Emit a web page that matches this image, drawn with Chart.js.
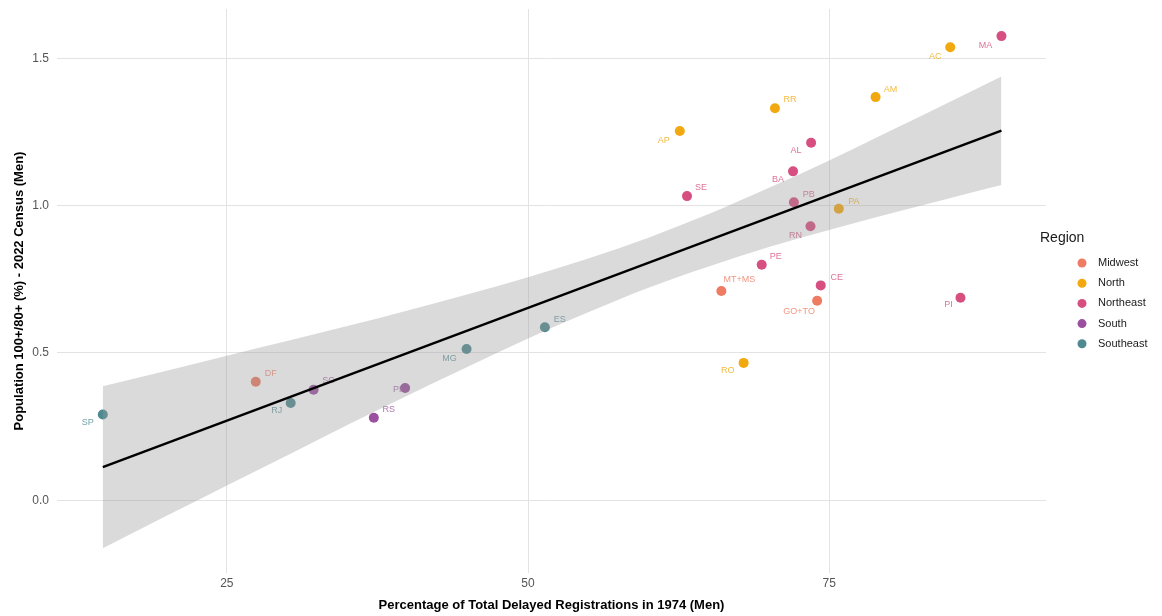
<!DOCTYPE html>
<html>
<head>
<meta charset="utf-8">
<script src="https://cdn.jsdelivr.net/npm/chart.js@4.4.1/dist/chart.umd.min.js"></script>
<style>
  html, body { margin: 0; padding: 0; background: #ffffff; }
  #wrap { width: 1162px; height: 616px; }
</style>
</head>
<body>
<div id="wrap"><canvas id="c" width="1162" height="616"></canvas></div>
<script>
// ---------------- DATA ----------------
const states  = ['AC','AL','AM','AP','BA','CE','DF','ES','GO+TO','MA','MG','MT+MS','PA','PB','PE','PI','PR','RJ','RN','RO','RR','RS','SC','SE','SP'];
const stateRegion = ['North','Northeast','North','North','Northeast','Northeast','Midwest','Southeast','Midwest','Northeast','Southeast','Midwest','North','Northeast','Northeast','Northeast','South','Southeast','Northeast','North','North','South','South','Northeast','Southeast'];
const delayedReg1974 = [85.05, 73.5, 78.85, 62.6, 72.0, 74.3, 27.4, 51.4, 74.0, 89.3, 44.9, 66.05, 75.8, 72.07, 69.4, 85.9, 39.8, 30.3, 73.45, 67.9, 70.5, 37.2, 32.2, 63.2, 14.7];
const pop100over80 = [1.537, 1.213, 1.368, 1.253, 1.116, 0.729, 0.402, 0.587, 0.677, 1.575, 0.513, 0.710, 0.989, 1.011, 0.799, 0.687, 0.381, 0.330, 0.930, 0.466, 1.330, 0.280, 0.375, 1.032, 0.291];

const regions = ['Midwest','North','Northeast','South','Southeast'];

// regression line and confidence band
const fitX = [14.7, 89.3];
const fitY = [0.112, 1.254];
const bandX     = [14.7, 20, 25, 30, 35, 40, 45, 50, 55, 60, 65, 70, 75, 80, 85, 89.3];
const bandUpper = [0.387, 0.439, 0.490, 0.540, 0.591, 0.644, 0.699, 0.757, 0.820, 0.891, 0.971, 1.060, 1.153, 1.252, 1.351, 1.438];
const bandLower = [-0.163, -0.053, 0.050, 0.152, 0.255, 0.355, 0.453, 0.549, 0.638, 0.721, 0.793, 0.859, 0.917, 0.972, 1.025, 1.070];

const xTicks = [25, 50, 75];
const yTicks = [0, 0.5, 1.0, 1.5];

// ---------------- STYLE ----------------
const regionColors = {
  'Midwest':   '#EE7B62',
  'North':     '#F2A90F',
  'Northeast': '#D64F80',
  'South':     '#9A509E',
  'Southeast': '#4F8A90'
};
// label placement (pixel offsets of label centre from its point)
const labelOffsets = {
  'MA':[-16,9], 'AC':[-15,9], 'AM':[15,-8], 'RR':[15,-9], 'AP':[-16,10], 'AL':[-15,8],
  'BA':[-15,8], 'SE':[14,-9], 'PB':[15,-8], 'PA':[15,-7], 'RN':[-15,9], 'PE':[14,-8],
  'MT+MS':[18,-11], 'CE':[16,-8], 'GO+TO':[-18,11], 'PI':[-12,7], 'RO':[-16,8],
  'SP':[-15,8], 'DF':[15,-8], 'RJ':[-14,8], 'SC':[15,-9], 'PR':[-6,2], 'RS':[15,-8],
  'ES':[15,-8], 'MG':[-17,9]
};

const FONT = "'Liberation Sans', Arial, Helvetica, sans-serif";

// ---------------- BUILD ----------------
const scatterSets = regions.map(r => {
  const pts = [];
  states.forEach((s, i) => {
    if (stateRegion[i] === r) pts.push({ x: delayedReg1974[i], y: pop100over80[i], label: s });
  });
  return {
    type: 'scatter',
    label: r,
    data: pts,
    backgroundColor: regionColors[r],
    borderColor: regionColors[r],
    borderWidth: 0,
    pointRadius: 5,
    pointHoverRadius: 5,
    order: 3
  };
});

const bandUpperSet = {
  type: 'line', label: 'upper',
  data: bandX.map((x, i) => ({ x, y: bandUpper[i] })),
  borderWidth: 0, borderColor: 'rgba(0,0,0,0)', pointRadius: 0,
  fill: false, tension: 0.4, cubicInterpolationMode: 'monotone', order: 2
};
const bandLowerSet = {
  type: 'line', label: 'lower',
  data: bandX.map((x, i) => ({ x, y: bandLower[i] })),
  borderWidth: 0, borderColor: 'rgba(0,0,0,0)', pointRadius: 0,
  fill: '-1', backgroundColor: 'rgba(153,153,153,0.36)',
  tension: 0.4, cubicInterpolationMode: 'monotone', order: 2
};
const fitSet = {
  type: 'line', label: 'fit',
  data: fitX.map((x, i) => ({ x, y: fitY[i] })),
  borderColor: '#000000', borderWidth: 2.4, pointRadius: 0, fill: false, order: 1
};

const labelPlugin = {
  id: 'pointLabels',
  afterDatasetDraw(chart, args) {
    if (args.index !== 0) return;
    const ctx = chart.ctx;
    ctx.save();
    ctx.font = '9px ' + FONT;
    ctx.textAlign = 'center';
    ctx.textBaseline = 'middle';
    for (let d = 0; d < regions.length; d++) {
      const meta = chart.getDatasetMeta(d);
      const ds = chart.data.datasets[d];
      meta.data.forEach((el, j) => {
        const name = ds.data[j].label;
        const off = labelOffsets[name] || [12, -8];
        ctx.fillStyle = regionColors[regions[d]];
        ctx.globalAlpha = 0.8;
        ctx.fillText(name, el.x + off[0], el.y + off[1]);
      });
    }
    ctx.restore();
  }
};

const legendPlugin = {
  id: 'regionLegend',
  afterDraw(chart) {
    const ctx = chart.ctx;
    ctx.save();
    ctx.fillStyle = '#1a1a1a';
    ctx.font = '14px ' + FONT;
    ctx.textAlign = 'left';
    ctx.textBaseline = 'middle';
    ctx.fillText('Region', 1040, 238);
    ctx.font = '11px ' + FONT;
    regions.forEach((r, i) => {
      const y = 263 + i * 20.2;
      ctx.beginPath();
      ctx.fillStyle = regionColors[r];
      ctx.arc(1082, y, 4.5, 0, Math.PI * 2);
      ctx.fill();
      ctx.fillStyle = '#1a1a1a';
      ctx.fillText(r, 1098, y);
    });
    ctx.restore();
  }
};

new Chart(document.getElementById('c'), {
  type: 'scatter',
  data: { datasets: [...scatterSets, bandUpperSet, bandLowerSet, fitSet] },
  options: {
    responsive: false,
    devicePixelRatio: 1,
    animation: false,
    layout: { padding: { left: 0, top: 9, right: 116, bottom: 0 } },
    plugins: {
      legend: { display: false },
      tooltip: { enabled: false },
      title: { display: false }
    },
    scales: {
      x: {
        type: 'linear',
        min: 10.9, max: 93.0,
        afterBuildTicks: (s) => { s.ticks = xTicks.map(v => ({ value: v })); },
        afterFit: (s) => { s.height = 43; s.paddingLeft = 0; s.paddingRight = 0; },
        grid: { color: '#e3e3e3', lineWidth: 1, drawTicks: false },
        border: { display: false },
        ticks: { color: '#555555', font: { family: FONT, size: 12 }, padding: 3, callback: (v) => String(v) },
        title: {
          display: true,
          text: 'Percentage of Total Delayed Registrations in 1974 (Men)',
          color: '#000000',
          font: { family: FONT, size: 13, weight: 'bold' },
          padding: { top: 0, bottom: 3 }
        }
      },
      y: {
        type: 'linear',
        min: -0.247, max: 1.667,
        afterBuildTicks: (s) => { s.ticks = yTicks.map(v => ({ value: v })); },
        afterFit: (s) => { s.width = 57; s.paddingTop = 0; s.paddingBottom = 0; },
        grid: { color: '#e3e3e3', lineWidth: 1, drawTicks: false },
        border: { display: false },
        ticks: { color: '#555555', font: { family: FONT, size: 12 }, padding: 8, callback: (v) => Number(v).toFixed(1) },
        title: {
          display: true,
          text: 'Population 100+/80+ (%) - 2022 Census (Men)',
          color: '#000000',
          font: { family: FONT, size: 13, weight: 'bold' },
          padding: { top: 12, bottom: 0 }
        }
      }
    }
  },
  plugins: [labelPlugin, legendPlugin]
});
</script>
</body>
</html>
